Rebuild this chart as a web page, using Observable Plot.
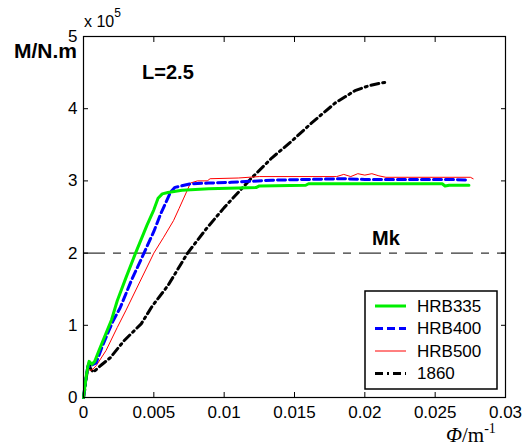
<!DOCTYPE html>
<html>
<head>
<meta charset="utf-8">
<script src="https://cdn.jsdelivr.net/npm/d3@7"></script>
<script src="https://cdn.jsdelivr.net/npm/@observablehq/plot@0.6"></script>
<style>
  html, body { margin: 0; padding: 0; background: #fff; }
  #chart { width: 529px; height: 447px; }
  svg { font-family: Arial, "Liberation Sans", sans-serif; }
</style>
</head>
<body>
<div id="chart"></div>
<script>
// Moment–curvature curves, section length L = 2.5 (M in units of 1e5 N·m)
const phi335 = [0, 0.0001, 0.0002, 0.0003, 0.0004, 0.0006, 0.0008, 0.0011, 0.0016, 0.0020, 0.0024, 0.0030, 0.0037, 0.0045, 0.0050, 0.0053, 0.0056, 0.0060, 0.0070, 0.0089, 0.0110, 0.0123, 0.0125, 0.0158, 0.0160, 0.0200, 0.0240, 0.0255, 0.0257, 0.0260, 0.0274];
const m335   = [0, 0.15, 0.30, 0.42, 0.50, 0.46, 0.50, 0.65, 0.89, 1.08, 1.34, 1.65, 2.00, 2.38, 2.60, 2.76, 2.82, 2.84, 2.87, 2.89, 2.90, 2.91, 2.93, 2.94, 2.96, 2.96, 2.96, 2.96, 2.93, 2.94, 2.94];

const phi400 = [0, 0.0001, 0.0002, 0.0003, 0.0005, 0.0009, 0.0013, 0.0017, 0.0021, 0.0026, 0.0034, 0.0043, 0.0050, 0.0055, 0.0059, 0.0062, 0.0065, 0.0076, 0.0089, 0.0105, 0.0134, 0.0160, 0.0185, 0.0200, 0.0230, 0.0260, 0.0274];
const m400   = [0, 0.15, 0.30, 0.42, 0.44, 0.48, 0.69, 0.88, 1.06, 1.24, 1.62, 2.00, 2.30, 2.55, 2.72, 2.85, 2.91, 2.96, 2.97, 2.98, 3.01, 3.02, 3.03, 3.02, 3.02, 3.02, 3.01];

const phi500 = [0, 0.0001, 0.0002, 0.0003, 0.0006, 0.0009, 0.0016, 0.0024, 0.0030, 0.0040, 0.0050, 0.0057, 0.0064, 0.0068, 0.0071, 0.0074, 0.0076, 0.0081, 0.0088, 0.0090, 0.0110, 0.0125, 0.0180, 0.0185, 0.0190, 0.0195, 0.0200, 0.0205, 0.0210, 0.0215, 0.0275, 0.0277];
const m500   = [0, 0.15, 0.28, 0.38, 0.38, 0.44, 0.65, 0.97, 1.20, 1.60, 2.00, 2.22, 2.45, 2.62, 2.75, 2.88, 2.97, 3.00, 3.00, 3.03, 3.04, 3.06, 3.06, 3.09, 3.06, 3.10, 3.08, 3.10, 3.07, 3.05, 3.05, 3.03];

const phi1860 = [0, 0.0001, 0.0002, 0.00036, 0.0005, 0.0007, 0.0012, 0.0019, 0.0029, 0.0041, 0.0049, 0.0060, 0.0074, 0.0087, 0.0100, 0.0119, 0.0134, 0.0148, 0.0162, 0.0179, 0.0193, 0.0203, 0.0210, 0.0216];
const m1860   = [0, 0.12, 0.28, 0.48, 0.40, 0.35, 0.44, 0.55, 0.79, 1.02, 1.27, 1.55, 2.00, 2.33, 2.63, 3.03, 3.32, 3.55, 3.80, 4.08, 4.25, 4.32, 4.35, 4.37];

const seriesNames = ["HRB335", "HRB400", "HRB500", "1860"];
const mk = 2;                      // cracking moment Mk
const xTicks = [0, 0.005, 0.01, 0.015, 0.02, 0.025, 0.03];
const xTickLabels = ["0", "0.005", "0.01", "0.015", "0.02", "0.025", "0.03"];
const yTicks = [0, 1, 2, 3, 4, 5];
const yTickLabels = ["0", "1", "2", "3", "4", "5"];

// line styles per series
const styles = {
  "HRB335": {stroke: "#00ee00", strokeWidth: 3, dash: null},
  "HRB400": {stroke: "#0000ff", strokeWidth: 3, dash: "8,4"},
  "HRB500": {stroke: "#ff0000", strokeWidth: 1, dash: null},
  "1860":   {stroke: "#000000", strokeWidth: 3, dash: "8,4,2,4"}
};

const toRows = (name, xs, ys) => xs.map((x, i) => ({series: name, phi: x, m: ys[i]}));
const rows = {
  "HRB335": toRows("HRB335", phi335, m335),
  "HRB400": toRows("HRB400", phi400, m400),
  "HRB500": toRows("HRB500", phi500, m500),
  "1860":   toRows("1860", phi1860, m1860)
};

const W = 529, H = 447;
const mL = 83, mR = 24, mT = 36, mB = 50;

const lineMarks = ["1860", "HRB500", "HRB400", "HRB335"].map(name =>
  Plot.line(rows[name], {
    x: "phi", y: "m",
    stroke: styles[name].stroke,
    strokeWidth: styles[name].strokeWidth,
    strokeDasharray: styles[name].dash,
    strokeLinejoin: "round"
  })
);

const plot = Plot.plot({
  width: W,
  height: H,
  marginLeft: mL,
  marginRight: mR,
  marginTop: mT,
  marginBottom: mB,
  style: {fontFamily: "Arial, 'Liberation Sans', sans-serif", fontSize: "17px", color: "#000", background: "#fff"},
  x: {domain: [0, 0.03]},
  y: {domain: [0, 5]},
  marks: [
    Plot.ruleY([mk], {stroke: "#000", strokeWidth: 1, strokeDasharray: "22,8,8,8"}),
    ...lineMarks,
    Plot.text([{phi: 0.006, m: 4.5}], {x: "phi", y: "m", text: () => "L=2.5", fontWeight: "bold", fontSize: 20, fill: "#000"}),
    Plot.text([{phi: 0.0215, m: mk}], {x: "phi", y: "m", text: () => "Mk", dy: -15, fontWeight: "bold", fontSize: 20, fill: "#000"}),
    Plot.axisX(xTicks, {anchor: "bottom", tickSize: -5, tickPadding: 13, tickFormat: (d, i) => xTickLabels[i], label: null, fontSize: 17}),
    Plot.axisX(xTicks, {anchor: "top", tickSize: -5, text: null, label: null}),
    Plot.axisY(yTicks, {anchor: "left", tickSize: -5, tickPadding: 11, tickFormat: (d, i) => yTickLabels[i], label: null, fontSize: 17}),
    Plot.axisY(yTicks, {anchor: "right", tickSize: -5, text: null, label: null}),
    Plot.frame({stroke: "#000", strokeWidth: 1.2})
  ]
});

document.getElementById("chart").appendChild(plot);

// Annotations outside the frame and the legend box
const svg = d3.select(plot);
const serif = "'Times New Roman', 'Liberation Serif', serif";

// y-axis label
svg.append("text")
  .attr("x", 14).attr("y", 58)
  .attr("text-anchor", "start")
  .attr("font-weight", "bold").attr("font-size", 21)
  .attr("fill", "#000")
  .text("M/N.m");

// scale factor
const sf = svg.append("text").attr("x", 84).attr("y", 27).attr("text-anchor", "start")
  .attr("font-size", 16).attr("fill", "#000");
sf.append("tspan").text("x 10");
sf.append("tspan").attr("dy", -10).attr("font-size", 12).text("5");

// x-axis label: Φ/m⁻¹
const xl = svg.append("text").attr("x", 446).attr("y", 442).attr("text-anchor", "start")
  .attr("font-family", serif).attr("font-size", 21).attr("fill", "#000");
xl.append("tspan").attr("font-style", "italic").text("Φ");
xl.append("tspan").text("/m");
xl.append("tspan").attr("dy", -9).attr("font-size", 14).text("-1");

// legend
const lg = svg.append("g").attr("transform", `translate(${W - mR - 140},${H - mB - 106})`);
lg.append("rect").attr("x", 0).attr("y", 0).attr("width", 132).attr("height", 98)
  .attr("fill", "#fff").attr("stroke", "#000").attr("stroke-width", 1.5);
seriesNames.forEach((name, i) => {
  const yy = 15 + i * 22.5;
  const st = styles[name];
  lg.append("line").attr("x1", 10).attr("x2", 41).attr("y1", yy).attr("y2", yy)
    .attr("stroke", st.stroke).attr("stroke-width", st.strokeWidth)
    .attr("stroke-dasharray", st.dash);
  lg.append("text").attr("x", 52).attr("y", yy).attr("dy", "0.35em")
    .attr("text-anchor", "start")
    .attr("font-size", 17).attr("fill", "#000").text(name);
});
</script>
</body>
</html>
